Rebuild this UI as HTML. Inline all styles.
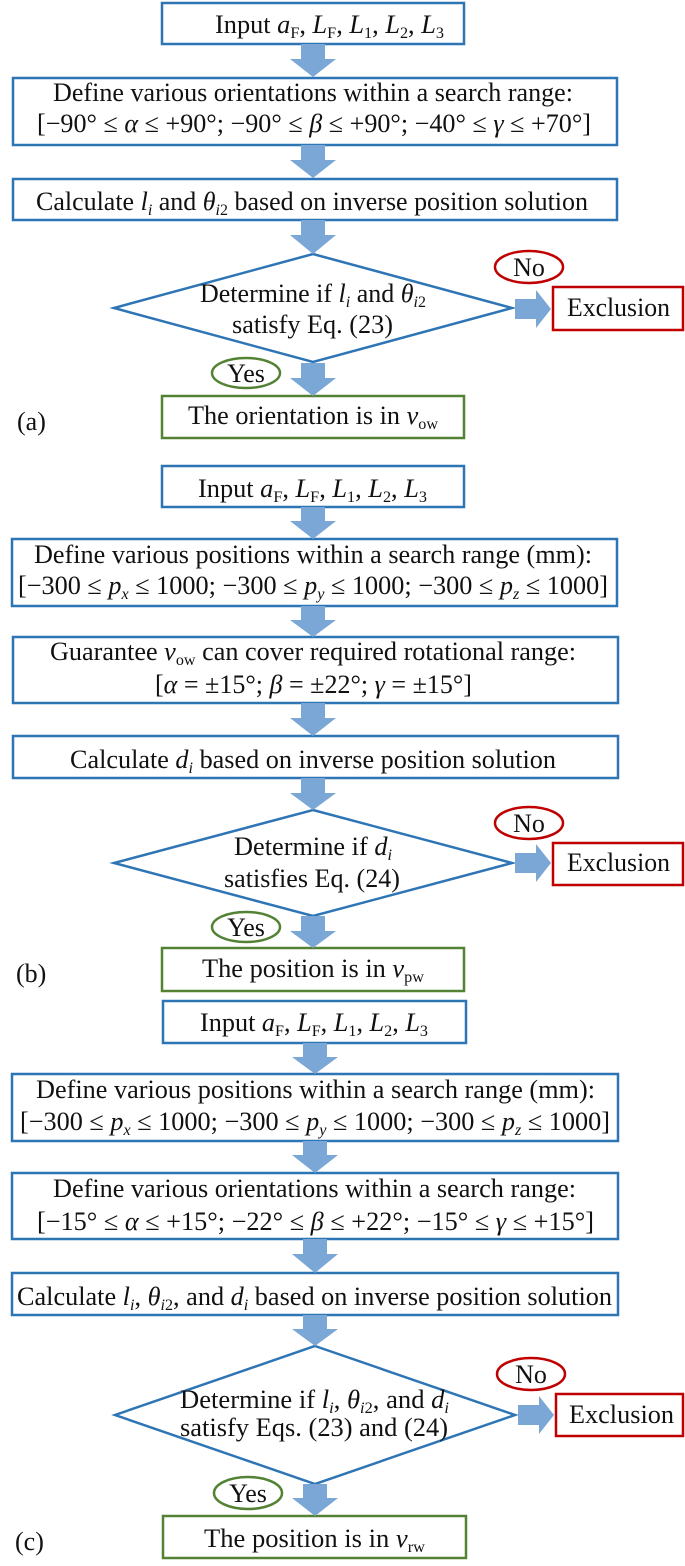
<!DOCTYPE html>
<html><head><meta charset="utf-8"><style>
html,body{margin:0;padding:0;background:#fff;}
svg{display:block;}
text{font-family:"Liberation Serif",serif;font-size:26px;fill:#111;}
.i{font-style:italic;}
</style></head><body>
<svg width="685" height="1566" viewBox="0 0 685 1566" xmlns="http://www.w3.org/2000/svg">
<g fill="#fff" stroke="#2e75b6" stroke-width="2.5">
<rect x="162" y="3" width="302" height="41"/>
<rect x="13" y="78" width="604" height="67"/>
<rect x="13" y="179" width="604" height="41"/>
<polygon points="313,254 512,308 313,362 114,308"/>
<rect x="162" y="466" width="302" height="41"/>
<rect x="12" y="539" width="605" height="67"/>
<rect x="13" y="637" width="605" height="66"/>
<rect x="13" y="736" width="605" height="42"/>
<polygon points="313,810 512,863 313,916 114,863"/>
<rect x="163" y="1001" width="303" height="42"/>
<rect x="12" y="1074" width="606" height="67"/>
<rect x="12" y="1173" width="606" height="66"/>
<rect x="12" y="1273" width="606" height="42"/>
<polygon points="315,1346 515,1415 315,1484 115,1415"/>
</g>
<g fill="#fff" stroke="#c00000" stroke-width="2.5">
<rect x="553" y="287" width="130" height="43"/>
<rect x="553" y="843" width="130" height="42"/>
<rect x="556" y="1394" width="127" height="42"/>
<ellipse cx="529" cy="267" rx="34" ry="16"/>
<ellipse cx="529" cy="823" rx="34" ry="16"/>
<ellipse cx="531" cy="1374" rx="34" ry="16"/>
</g>
<g fill="#fff" stroke="#548235" stroke-width="2.5">
<rect x="162" y="396" width="302" height="42"/>
<rect x="162" y="948" width="302" height="43"/>
<rect x="163" y="1516" width="303" height="42"/>
<ellipse cx="246" cy="373" rx="34" ry="15"/>
<ellipse cx="246" cy="927" rx="34" ry="15"/>
<ellipse cx="248" cy="1493" rx="34" ry="16"/>
</g>
<g fill="#7aa7d6">
<polygon points="301,44 325,44 325,59 336,59 313,77 290,59 301,59"/>
<polygon points="301,145 325,145 325,160 336,160 313,178 290,160 301,160"/>
<polygon points="301,220 325,220 325,235 336,235 313,254 290,235 301,235"/>
<polygon points="301,363 325,363 325,378 336,378 313,396 290,378 301,378"/>
<polygon points="301,507 325,507 325,521 336,521 313,539 290,521 301,521"/>
<polygon points="301,606 325,606 325,620 336,620 313,637 290,620 301,620"/>
<polygon points="301,703 325,703 325,718 336,718 313,736 290,718 301,718"/>
<polygon points="301,778 325,778 325,793 336,793 313,810 290,793 301,793"/>
<polygon points="301,916 325,916 325,931 336,931 313,948 290,931 301,931"/>
<polygon points="303,1043 327,1043 327,1057 338,1057 315,1074 292,1057 303,1057"/>
<polygon points="303,1141 327,1141 327,1155 338,1155 315,1173 292,1155 303,1155"/>
<polygon points="303,1239 327,1239 327,1254 338,1254 315,1273 292,1254 303,1254"/>
<polygon points="303,1315 327,1315 327,1329 338,1329 315,1346 292,1329 303,1329"/>
<polygon points="303,1484 327,1484 327,1498 338,1498 315,1516 292,1498 303,1498"/>
<polygon points="515,299 536,299 536,290 551,309 536,328 536,319 515,319"/>
<polygon points="515,853 536,853 536,844 551,863 536,882 536,873 515,873"/>
<polygon points="518,1405 539,1405 539,1396 554,1415 539,1434 539,1425 518,1425"/>
</g>

<!-- (a) -->
<text x="215" y="33" textLength="229" lengthAdjust="spacingAndGlyphs">Input <tspan class="i">a</tspan><tspan font-size="16" dy="5">F</tspan><tspan dy="-5">, </tspan><tspan class="i">L</tspan><tspan font-size="16" dy="5">F</tspan><tspan dy="-5">, </tspan><tspan class="i">L</tspan><tspan font-size="16" dy="5">1</tspan><tspan dy="-5">, </tspan><tspan class="i">L</tspan><tspan font-size="16" dy="5">2</tspan><tspan dy="-5">, </tspan><tspan class="i">L</tspan><tspan font-size="16" dy="5">3</tspan></text>
<text x="53" y="101" textLength="520" lengthAdjust="spacingAndGlyphs">Define various orientations within a search range:</text>
<text x="37" y="132" textLength="554" lengthAdjust="spacingAndGlyphs">[−90° ≤ <tspan class="i">α</tspan> ≤ +90°; −90° ≤ <tspan class="i">β</tspan> ≤ +90°; −40° ≤ <tspan class="i">γ</tspan> ≤ +70°]</text>
<text x="36" y="210" textLength="552" lengthAdjust="spacingAndGlyphs">Calculate <tspan class="i">l</tspan><tspan class="i" font-size="16" dy="5">i</tspan><tspan dy="-5"> and </tspan><tspan class="i">θ</tspan><tspan class="i" font-size="16" dy="5">i</tspan><tspan font-size="16">2</tspan><tspan dy="-5"> based on inverse position solution</tspan></text>
<text x="200" y="302" textLength="226" lengthAdjust="spacingAndGlyphs">Determine if <tspan class="i">l</tspan><tspan class="i" font-size="16" dy="5">i</tspan><tspan dy="-5"> and </tspan><tspan class="i">θ</tspan><tspan class="i" font-size="16" dy="5">i</tspan><tspan font-size="16">2</tspan></text>
<text x="232" y="333" textLength="161" lengthAdjust="spacingAndGlyphs">satisfy Eq. (23)</text>
<text x="529" y="276" text-anchor="middle">No</text>
<text x="567" y="316" textLength="103" lengthAdjust="spacingAndGlyphs">Exclusion</text>
<text x="246" y="382" text-anchor="middle">Yes</text>
<text x="188" y="424" textLength="250" lengthAdjust="spacingAndGlyphs">The orientation is in <tspan class="i">v</tspan><tspan font-size="16" dy="5">ow</tspan></text>
<text x="17" y="430">(a)</text>

<!-- (b) -->
<text x="198" y="497" textLength="229" lengthAdjust="spacingAndGlyphs">Input <tspan class="i">a</tspan><tspan font-size="16" dy="5">F</tspan><tspan dy="-5">, </tspan><tspan class="i">L</tspan><tspan font-size="16" dy="5">F</tspan><tspan dy="-5">, </tspan><tspan class="i">L</tspan><tspan font-size="16" dy="5">1</tspan><tspan dy="-5">, </tspan><tspan class="i">L</tspan><tspan font-size="16" dy="5">2</tspan><tspan dy="-5">, </tspan><tspan class="i">L</tspan><tspan font-size="16" dy="5">3</tspan></text>
<text x="34" y="563" textLength="558" lengthAdjust="spacingAndGlyphs">Define various positions within a search range (mm):</text>
<text x="18" y="594" textLength="590" lengthAdjust="spacingAndGlyphs">[−300 ≤ <tspan class="i">p</tspan><tspan class="i" font-size="16" dy="5">x</tspan><tspan dy="-5"> ≤ 1000; −300 ≤ </tspan><tspan class="i">p</tspan><tspan class="i" font-size="16" dy="5">y</tspan><tspan dy="-5"> ≤ 1000; −300 ≤ </tspan><tspan class="i">p</tspan><tspan class="i" font-size="16" dy="5">z</tspan><tspan dy="-5"> ≤ 1000]</tspan></text>
<text x="50" y="660" textLength="526" lengthAdjust="spacingAndGlyphs">Guarantee <tspan class="i">v</tspan><tspan font-size="16" dy="5">ow</tspan><tspan dy="-5"> can cover required rotational range:</tspan></text>
<text x="155" y="693" textLength="317" lengthAdjust="spacingAndGlyphs">[<tspan class="i">α</tspan> = ±15°; <tspan class="i">β</tspan> = ±22°; <tspan class="i">γ</tspan> = ±15°]</text>
<text x="70" y="768" textLength="486" lengthAdjust="spacingAndGlyphs">Calculate <tspan class="i">d</tspan><tspan class="i" font-size="16" dy="5">i</tspan><tspan dy="-5"> based on inverse position solution</tspan></text>
<text x="234" y="855" textLength="158" lengthAdjust="spacingAndGlyphs">Determine if <tspan class="i">d</tspan><tspan class="i" font-size="16" dy="5">i</tspan></text>
<text x="224" y="887" textLength="176" lengthAdjust="spacingAndGlyphs">satisfies Eq. (24)</text>
<text x="529" y="832" text-anchor="middle">No</text>
<text x="567" y="871" textLength="103" lengthAdjust="spacingAndGlyphs">Exclusion</text>
<text x="246" y="936" text-anchor="middle">Yes</text>
<text x="202" y="977" textLength="222" lengthAdjust="spacingAndGlyphs">The position is in <tspan class="i">v</tspan><tspan font-size="16" dy="5">pw</tspan></text>
<text x="16" y="982">(b)</text>

<!-- (c) -->
<text x="200" y="1031" textLength="228" lengthAdjust="spacingAndGlyphs">Input <tspan class="i">a</tspan><tspan font-size="16" dy="5">F</tspan><tspan dy="-5">, </tspan><tspan class="i">L</tspan><tspan font-size="16" dy="5">F</tspan><tspan dy="-5">, </tspan><tspan class="i">L</tspan><tspan font-size="16" dy="5">1</tspan><tspan dy="-5">, </tspan><tspan class="i">L</tspan><tspan font-size="16" dy="5">2</tspan><tspan dy="-5">, </tspan><tspan class="i">L</tspan><tspan font-size="16" dy="5">3</tspan></text>
<text x="36" y="1098" textLength="559" lengthAdjust="spacingAndGlyphs">Define various positions within a search range (mm):</text>
<text x="20" y="1130" textLength="590" lengthAdjust="spacingAndGlyphs">[−300 ≤ <tspan class="i">p</tspan><tspan class="i" font-size="16" dy="5">x</tspan><tspan dy="-5"> ≤ 1000; −300 ≤ </tspan><tspan class="i">p</tspan><tspan class="i" font-size="16" dy="5">y</tspan><tspan dy="-5"> ≤ 1000; −300 ≤ </tspan><tspan class="i">p</tspan><tspan class="i" font-size="16" dy="5">z</tspan><tspan dy="-5"> ≤ 1000]</tspan></text>
<text x="53" y="1197" textLength="523" lengthAdjust="spacingAndGlyphs">Define various orientations within a search range:</text>
<text x="37" y="1230" textLength="557" lengthAdjust="spacingAndGlyphs">[−15° ≤ <tspan class="i">α</tspan> ≤ +15°; −22° ≤ <tspan class="i">β</tspan> ≤ +22°; −15° ≤ <tspan class="i">γ</tspan> ≤ +15°]</text>
<text x="17" y="1305" textLength="595" lengthAdjust="spacingAndGlyphs">Calculate <tspan class="i">l</tspan><tspan class="i" font-size="16" dy="5">i</tspan><tspan dy="-5">, </tspan><tspan class="i">θ</tspan><tspan class="i" font-size="16" dy="5">i</tspan><tspan font-size="16">2</tspan><tspan dy="-5">, and </tspan><tspan class="i">d</tspan><tspan class="i" font-size="16" dy="5">i</tspan><tspan dy="-5"> based on inverse position solution</tspan></text>
<text x="180" y="1408" textLength="269" lengthAdjust="spacingAndGlyphs">Determine if <tspan class="i">l</tspan><tspan class="i" font-size="16" dy="5">i</tspan><tspan dy="-5">, </tspan><tspan class="i">θ</tspan><tspan class="i" font-size="16" dy="5">i</tspan><tspan font-size="16">2</tspan><tspan dy="-5">, and </tspan><tspan class="i">d</tspan><tspan class="i" font-size="16" dy="5">i</tspan></text>
<text x="180" y="1436" textLength="268" lengthAdjust="spacingAndGlyphs">satisfy Eqs. (23) and (24)</text>
<text x="531" y="1383" text-anchor="middle">No</text>
<text x="569" y="1423" textLength="105" lengthAdjust="spacingAndGlyphs">Exclusion</text>
<text x="248" y="1502" text-anchor="middle">Yes</text>
<text x="204" y="1547" textLength="221" lengthAdjust="spacingAndGlyphs">The position is in <tspan class="i">v</tspan><tspan font-size="16" dy="5">rw</tspan></text>
<text x="15" y="1550">(c)</text>
</svg>
</body></html>
